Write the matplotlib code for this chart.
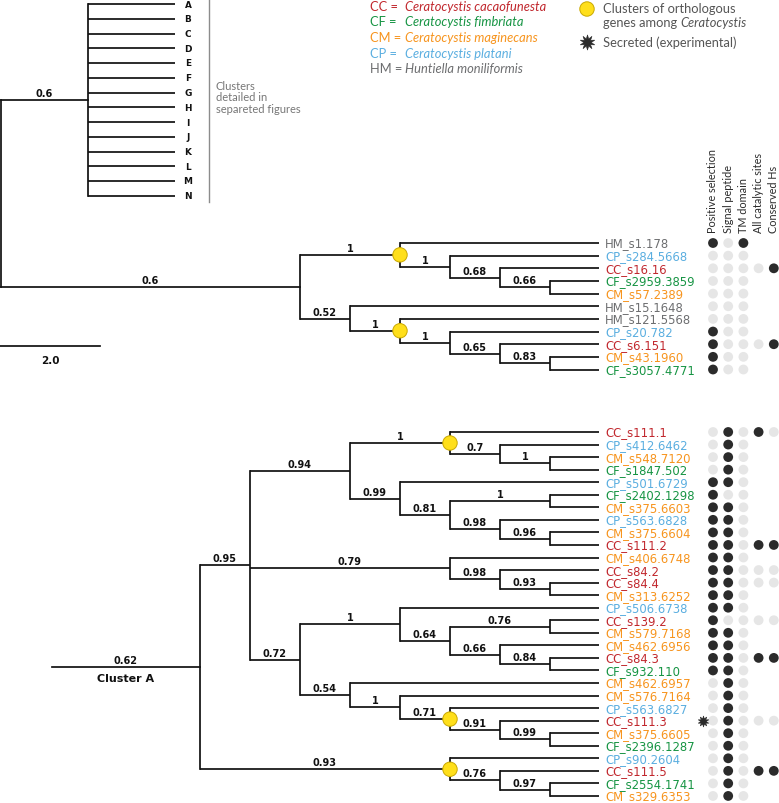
import matplotlib
matplotlib.use('Agg')
import matplotlib.pyplot as plt
from matplotlib.patches import Circle

# ---------------- data ----------------
species_codes = ['CC', 'CF', 'CM', 'CP', 'HM']
species_names = ['Ceratocystis cacaofunesta', 'Ceratocystis fimbriata',
                 'Ceratocystis maginecans', 'Ceratocystis platani',
                 'Huntiella moniliformis']
species_colors = ['#c1272d', '#169443', '#f7941d', '#5aaee0', '#6d6e70']

cluster_letters = list('ABCDEFGHIJKLMN')
cluster_note = ['Clusters', 'detailed in', 'separeted figures']
cluster_stem_support = '0.6'
main_stem_support = '0.6'
cluster_a_stem_support = '0.62'
cluster_a_name = 'Cluster A'
scale_label = '2.0'

main_tree = ("((HM_s1.178,(CP_s284.5668,(CC_s16.16,(CF_s2959.3859,CM_s57.2389)0.66)0.68)1)1*,"
             "(HM_s15.1648,(HM_s121.5568,(CP_s20.782,(CC_s6.151,(CM_s43.1960,CF_s3057.4771)0.83)0.65)1)1*)0.52)")

cluster_a_tree = ("((((CC_s111.1,(CP_s412.6462,(CM_s548.7120,CF_s1847.502)1)0.7)1*,"
                  "(CP_s501.6729,((CF_s2402.1298,CM_s375.6603)1,(CP_s563.6828,(CM_s375.6604,CC_s111.2)0.96)0.98)0.81)0.99)0.94,"
                  "(CM_s406.6748,(CC_s84.2,(CC_s84.4,CM_s313.6252)0.93)0.98)0.79,"
                  "((CP_s506.6738,((CC_s139.2,CM_s579.7168)0.76,(CM_s462.6956,(CC_s84.3,CF_s932.110)0.84)0.66)0.64)1,"
                  "(CM_s462.6957,(CM_s576.7164,(CP_s563.6827,(CC_s111.3,(CM_s375.6605,CF_s2396.1287)0.99)0.91)0.71*)1)0.54)0.72)0.95,"
                  "(CP_s90.2604,(CC_s111.5,(CF_s2554.1741,CM_s329.6353)0.97)0.76)0.93*)")

feature_names = ['Positive selection', 'Signal peptide', 'TM domain',
                 'All catalytic sites', 'Conserved Hs']

# 1 = present (dark), 0 = absent (light grey); short rows = fewer columns shown
main_features = [
    [1, 0, 1],
    [0, 0, 0],
    [0, 0, 0, 0, 1],
    [0, 0, 0],
    [0, 0, 0],
    [0, 0, 0],
    [0, 0, 0],
    [1, 0, 0],
    [1, 0, 0, 0, 1],
    [1, 0, 0],
    [1, 0, 0],
]
cluster_a_features = [
    [0, 1, 0, 1, 0],
    [0, 1, 0],
    [0, 1, 0],
    [0, 1, 0],
    [1, 1, 0],
    [1, 0, 0],
    [1, 1, 0],
    [1, 1, 0],
    [1, 1, 0],
    [1, 1, 0, 1, 1],
    [1, 1, 0],
    [1, 1, 0, 0, 0],
    [1, 1, 0, 0, 0],
    [1, 1, 0],
    [1, 1, 0],
    [1, 0, 0, 0, 0],
    [1, 1, 0],
    [1, 1, 0],
    [1, 1, 0, 1, 1],
    [1, 1, 0],
    [0, 1, 0],
    [0, 1, 0],
    [0, 1, 0],
    [0, 1, 0, 0, 0],
    [0, 1, 0],
    [0, 1, 0],
    [0, 1, 0],
    [0, 1, 0, 1, 1],
    [0, 1, 0],
    [0, 1, 0],
]
secreted = ['CC_s111.3']

# ---------------- style ----------------
W, H = 779, 804
LEAF_FONT = ['DejaVu Sans']
LABEL_FONT = ['Lato', 'DejaVu Sans']
BR_LW = 1.25
DARK = '#2b2b2b'
LIGHT = '#e6e6e6'
YELLOW = '#ffdf1b'
YELLOW_EDGE = '#c9a800'
color_of = dict(zip(species_codes, species_colors))

fig = plt.figure(figsize=(W / 100, H / 100), dpi=100)
ax = fig.add_axes([0, 0, 1, 1])
ax.set_xlim(0, W)
ax.set_ylim(H, 0)
ax.axis('off')


def parse(s):
    pos = 0

    def read():
        nonlocal pos
        st = pos
        while pos < len(s) and s[pos] not in ',()':
            pos += 1
        return s[st:pos]

    def node():
        nonlocal pos
        if s[pos] == '(':
            pos += 1
            kids = [node()]
            while s[pos] == ',':
                pos += 1
                kids.append(node())
            pos += 1
            lab = read()
            return {'kids': kids, 'lab': lab}
        return {'kids': [], 'lab': read()}

    return node()


def height(n):
    return 0 if not n['kids'] else 1 + max(height(k) for k in n['kids'])


def layout(tree, leaf_x, step, y0, dy):
    leaves = []

    def place(n):
        if not n['kids']:
            n['y'] = y0 + len(leaves) * dy
            n['x'] = leaf_x
            leaves.append(n)
        else:
            for k in n['kids']:
                place(k)
            n['y'] = (n['kids'][0]['y'] + n['kids'][-1]['y']) / 2
            n['x'] = leaf_x - step * height(n)

    place(tree)
    return leaves


def support_text(x0, x1, y, txt, size=7):
    ax.text((x0 + x1) / 2, y - 4, txt, ha='center', va='baseline',
            fontsize=size, fontweight='bold', color='#111111', family=['DejaVu Sans'])


def draw_tree(tree, leaf_end_gap=1):
    circles = []

    def rec(n):
        if not n['kids']:
            return
        ys = [k['y'] for k in n['kids']]
        ax.plot([n['x'], n['x']], [min(ys), max(ys)], color='#111111', lw=BR_LW,
                solid_capstyle='projecting', zorder=2)
        for k in n['kids']:
            xe = k['x'] - (leaf_end_gap if not k['kids'] else 0)
            ax.plot([n['x'], xe], [k['y'], k['y']], color='#111111', lw=BR_LW,
                    solid_capstyle='butt', zorder=2)
            if k['kids']:
                lab = k['lab']
                if lab.endswith('*'):
                    circles.append(k)
                    lab = lab[:-1]
                if lab:
                    support_text(n['x'], k['x'], k['y'], lab)
            rec(k)

    rec(tree)
    for c in circles:
        ax.add_patch(Circle((c['x'], c['y']), 7.2, facecolor=YELLOW, edgecolor=YELLOW_EDGE,
                            lw=0.7, zorder=4))


def draw_leaves(leaves, feats, label_x, col_x0, col_dx):
    for lf, fr in zip(leaves, feats):
        name = lf['lab']
        ax.text(label_x, lf['y'], name, ha='left', va='center', fontsize=8.4,
                color=color_of[name[:2]], family=LEAF_FONT)
        for j, v in enumerate(fr):
            ax.add_patch(Circle((col_x0 + j * col_dx, lf['y']), 4.9,
                                facecolor=DARK if v else LIGHT, edgecolor='none', zorder=3))
        if name in secreted:
            ax.plot(col_x0 - 10, lf['y'], marker=(10, 1, 0), ms=8, color=DARK,
                    markeredgewidth=0.4, zorder=3)


LEAF_X = 600
STEP = 50
LABEL_X = 605
COL_X0 = 713
COL_DX = 15.2

# ---- cluster overview (A-N) ----
ov = parse('(' + ','.join(cluster_letters) + ')')
ov_leaves = layout(ov, 175, 87, 5, 14.75)
draw_tree(ov, leaf_end_gap=0)
for lf in ov_leaves:
    ax.text(188, lf['y'], lf['lab'], ha='center', va='center', fontsize=6.4,
            fontweight='bold', color='#111111', family=['DejaVu Sans'])
ax.plot([209, 209], [0, 203], color='#8c8c8c', lw=1.0)
for i, t in enumerate(cluster_note):
    ax.text(216, 86 + i * 11.6, t, ha='left', va='center', fontsize=8.0,
            color='#777777', family=LABEL_FONT)

# ---- main tree ----
mt = parse(main_tree)
mt_leaves = layout(mt, LEAF_X, STEP, 244, 12.65)
draw_tree(mt)
draw_leaves(mt_leaves, main_features, LABEL_X, COL_X0, COL_DX)

# root joining overview and main tree
root_x = 1
ax.plot([root_x, root_x], [ov['y'], mt['y']], color='#111111', lw=BR_LW)
ax.plot([root_x, ov['x']], [ov['y'], ov['y']], color='#111111', lw=BR_LW)
ax.plot([root_x, mt['x']], [mt['y'], mt['y']], color='#111111', lw=BR_LW)
support_text(root_x, ov['x'], ov['y'], cluster_stem_support)
support_text(root_x, mt['x'], mt['y'], main_stem_support)

# feature headers
for j, t in enumerate(feature_names):
    ax.text(COL_X0 + j * COL_DX, 233, t, rotation=90, ha='center', va='bottom',
            fontsize=7.8, color='#2b2b2b', family=LABEL_FONT)

# scale bar
ax.plot([0, 100], [347, 347], color='#111111', lw=BR_LW)
ax.text(50, 361, scale_label, ha='center', va='center', fontsize=7.5,
        fontweight='bold', color='#111111', family=['DejaVu Sans'])

# ---- cluster A ----
ca = parse(cluster_a_tree)
ca_leaves = layout(ca, LEAF_X, STEP, 433, 12.55)
draw_tree(ca)
draw_leaves(ca_leaves, cluster_a_features, LABEL_X, COL_X0, COL_DX)
stem_x = 52
ax.plot([stem_x, ca['x']], [ca['y'], ca['y']], color='#111111', lw=BR_LW)
support_text(stem_x, ca['x'], ca['y'], cluster_a_stem_support)
ax.text((stem_x + ca['x']) / 2, ca['y'] + 11, cluster_a_name, ha='center', va='center',
        fontsize=8, fontweight='bold', color='#111111', family=['DejaVu Sans'])

# ---- legend ----
LEG_FS = 9.3
for i, (c, nm, col) in enumerate(zip(species_codes, species_names, species_colors)):
    y = 7 + i * 15.5
    ax.text(370, y, c + ' =', ha='left', va='center', fontsize=LEG_FS, color=col, family=LABEL_FONT)
    ax.text(405, y, nm, ha='left', va='center', fontsize=LEG_FS, color=col,
            style='italic', family=LABEL_FONT)

ax.add_patch(Circle((587, 10), 7.2, facecolor=YELLOW, edgecolor=YELLOW_EDGE, lw=0.7))
ax.text(603, 9, 'Clusters of orthologous', ha='left', va='center', fontsize=LEG_FS,
        color='#555555', family=LABEL_FONT)
t1 = ax.text(603, 23, 'genes among ', ha='left', va='center', fontsize=LEG_FS,
             color='#555555', family=LABEL_FONT)
fig.canvas.draw()
bb = t1.get_window_extent(renderer=fig.canvas.get_renderer())
x_after = ax.transData.inverted().transform((bb.x1, bb.y0))[0]
ax.text(x_after, 23, 'Ceratocystis', ha='left', va='center', fontsize=LEG_FS,
        color='#555555', style='italic', family=LABEL_FONT)
ax.plot(587, 43, marker=(10, 1, 0), ms=11, color=DARK, markeredgewidth=0.4)
ax.text(603, 43, 'Secreted (experimental)', ha='left', va='center', fontsize=LEG_FS,
        color='#555555', family=LABEL_FONT)

fig.savefig('out.png', dpi=100, facecolor='white')
